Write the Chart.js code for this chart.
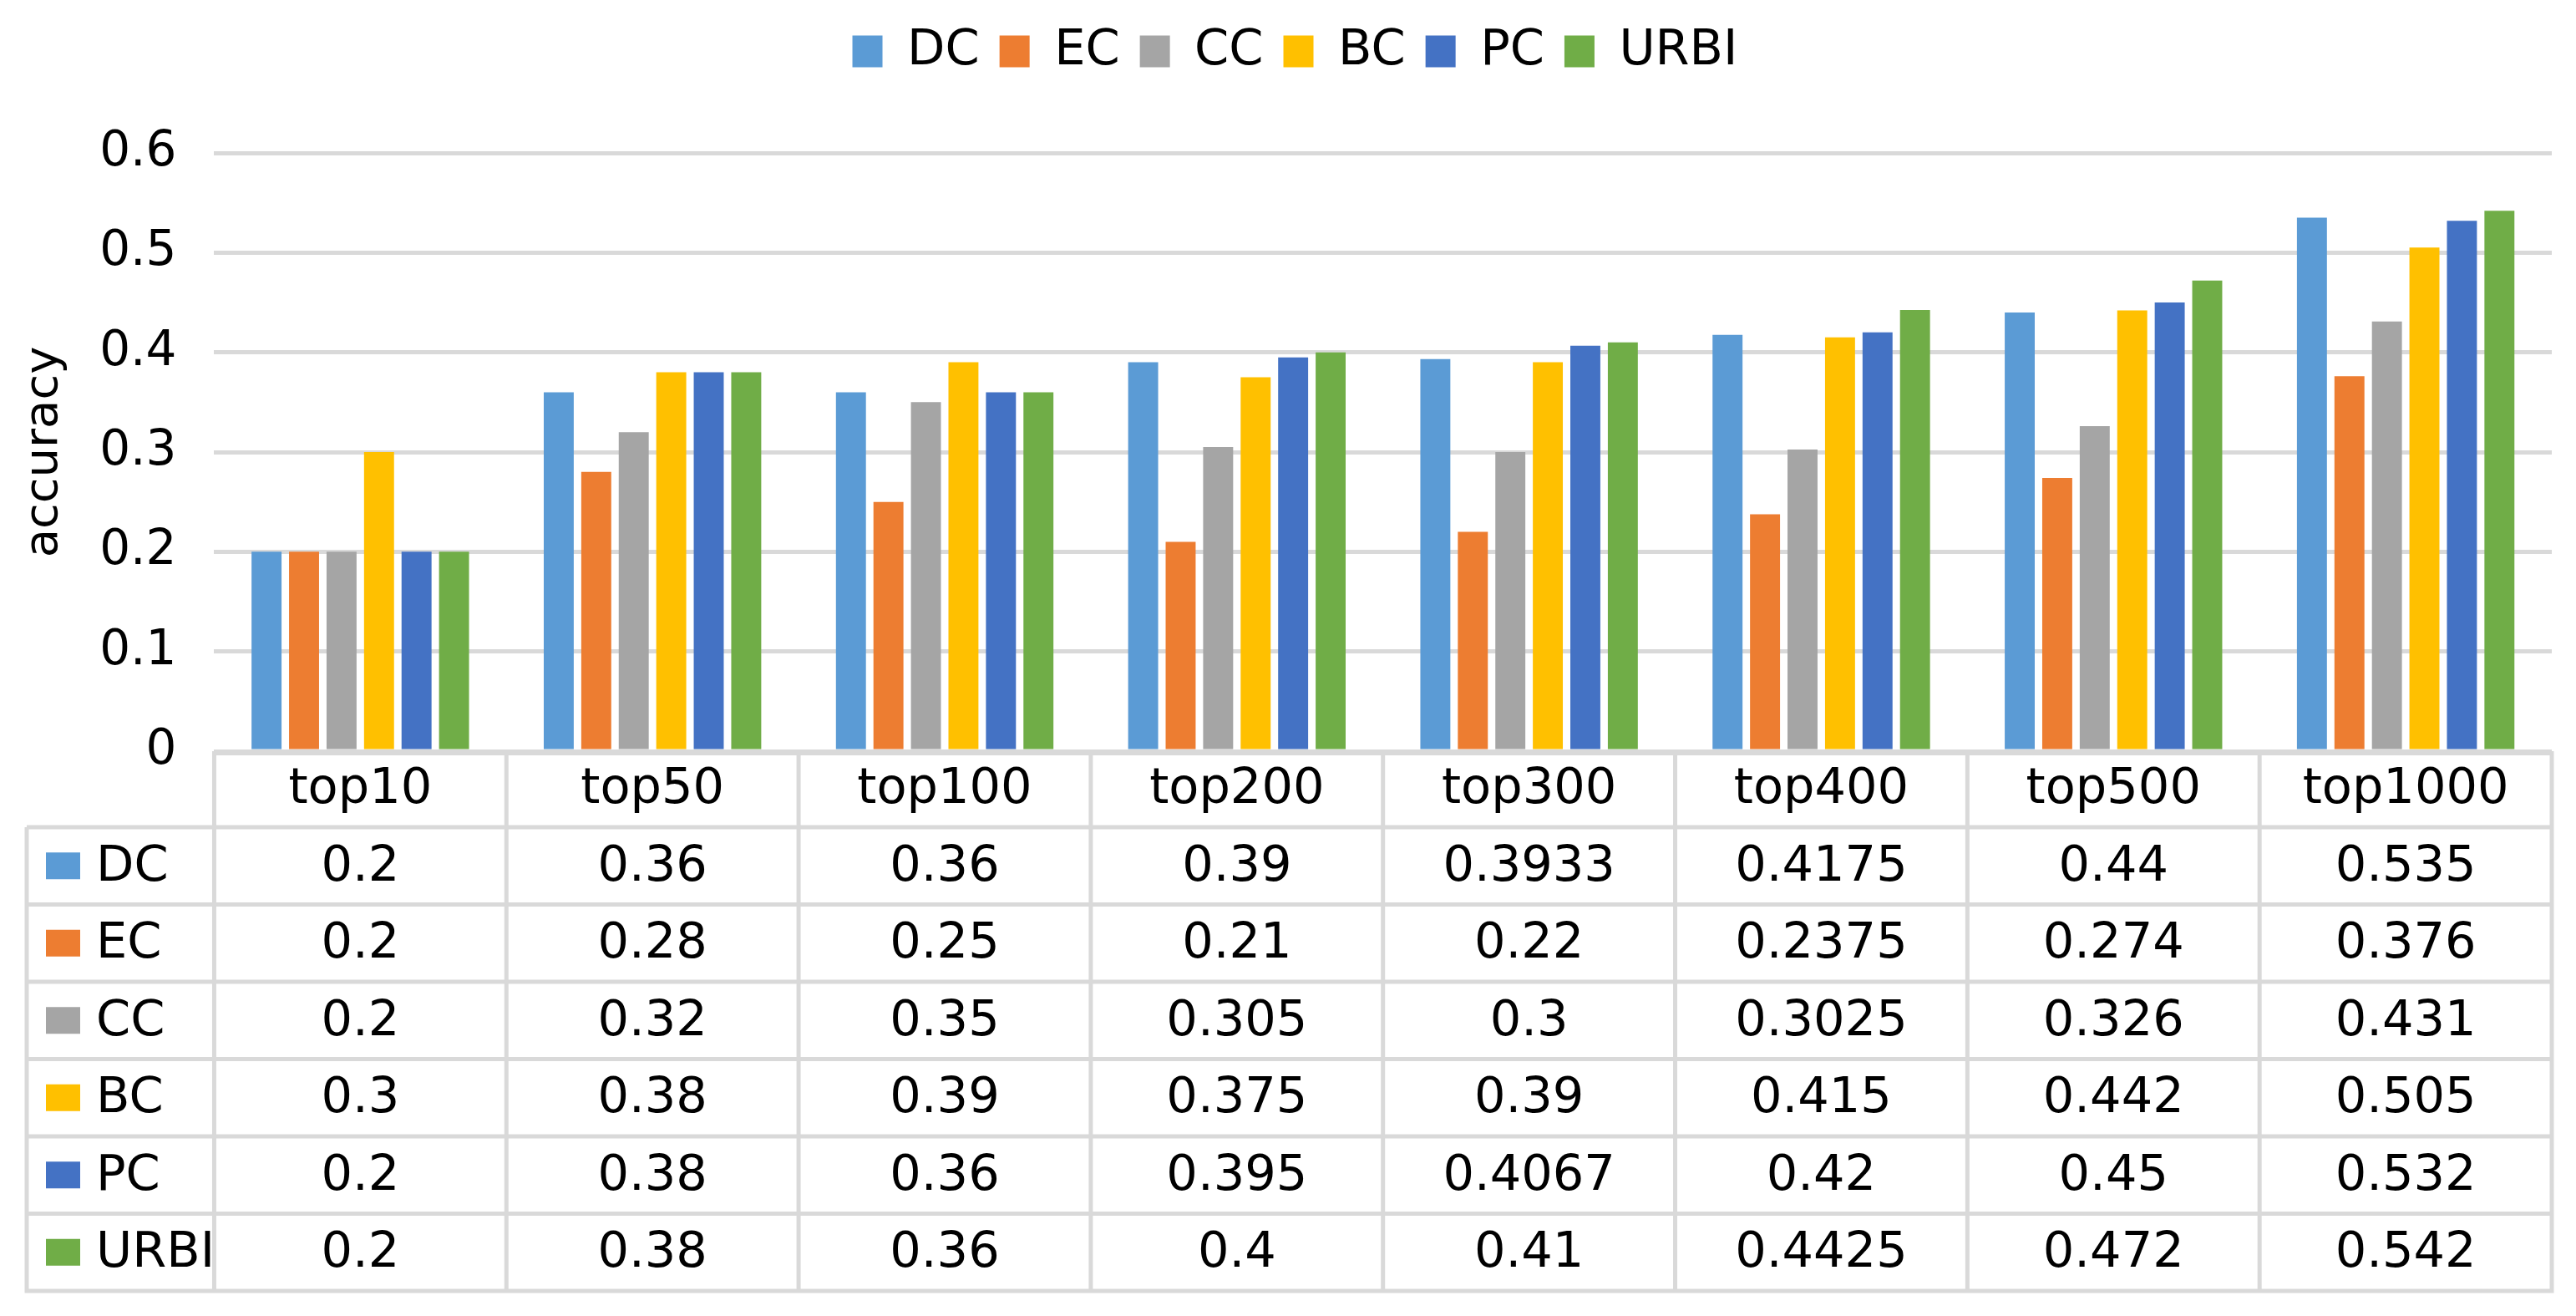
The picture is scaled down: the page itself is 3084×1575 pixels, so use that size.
<!DOCTYPE html>
<html>
<head>
<meta charset="utf-8">
<script src="https://cdn.jsdelivr.net/npm/chart.js@4/dist/chart.umd.min.js"></script>
<style>
  html, body { margin: 0; padding: 0; background: #fff; }
  #wrap { width: 3084px; height: 1575px; }
</style>
</head>
<body>
<div id="wrap"><canvas id="chart-canvas"></canvas></div>
<script>
  const categories = ['top10', 'top50', 'top100', 'top200', 'top300', 'top400', 'top500', 'top1000'];
  const seriesNames = ['DC', 'EC', 'CC', 'BC', 'PC', 'URBI'];
  const seriesColors = ['#5B9BD5', '#ED7D31', '#A5A5A5', '#FFC000', '#4472C4', '#70AD47'];

  const dcValues   = [0.2, 0.36, 0.36, 0.39, 0.3933, 0.4175, 0.44, 0.535];
  const ecValues   = [0.2, 0.28, 0.25, 0.21, 0.22, 0.2375, 0.274, 0.376];
  const ccValues   = [0.2, 0.32, 0.35, 0.305, 0.3, 0.3025, 0.326, 0.431];
  const bcValues   = [0.3, 0.38, 0.39, 0.375, 0.39, 0.415, 0.442, 0.505];
  const pcValues   = [0.2, 0.38, 0.36, 0.395, 0.4067, 0.42, 0.45, 0.532];
  const urbiValues = [0.2, 0.38, 0.36, 0.4, 0.41, 0.4425, 0.472, 0.542];

  const yTicks = [0, 0.1, 0.2, 0.3, 0.4, 0.5, 0.6];
  const yTitle = 'accuracy';

  const allValues = [dcValues, ecValues, ccValues, bcValues, pcValues, urbiValues];
  const FONT = "'DejaVu Sans', sans-serif";
  const GRID = '#d9d9d9';

  // push the plot area down below the legend
  const legendMargin = {
    id: 'legendMargin',
    beforeInit(chart) {
      const fit = chart.legend.fit;
      chart.legend.fit = function () {
        fit.bind(chart.legend)();
        this.height += 82;
      };
    }
  };

  // data table drawn under the plot, columns taken from the x scale
  const dataTable = {
    id: 'dataTable',
    afterDraw(chart) {
      const ctx = chart.ctx;
      const x = chart.scales.x;
      const area = chart.chartArea;
      const colW = (area.right - area.left) / categories.length;
      const top = area.bottom;
      const headerBottom = top + 91;
      const rowH = 92.5;
      const tableLeft = 32;
      const bottom = headerBottom + rowH * seriesNames.length;

      ctx.save();
      ctx.strokeStyle = GRID;
      ctx.lineWidth = 5;
      ctx.beginPath();
      ctx.moveTo(area.left, top + 2.5);
      ctx.lineTo(area.right, top + 2.5);
      for (let r = 0; r <= seriesNames.length; r++) {
        const y = headerBottom + r * rowH;
        ctx.moveTo(tableLeft, y);
        ctx.lineTo(area.right, y);
      }
      for (let i = 0; i <= categories.length; i++) {
        const xx = area.left + i * colW;
        ctx.moveTo(xx, top);
        ctx.lineTo(xx, bottom + 2.5);
      }
      ctx.moveTo(tableLeft, headerBottom);
      ctx.lineTo(tableLeft, bottom + 2.5);
      ctx.stroke();

      ctx.fillStyle = '#000';
      ctx.font = '59px ' + FONT;
      ctx.textAlign = 'center';
      ctx.textBaseline = 'middle';
      categories.forEach((c, i) => {
        ctx.fillText(c, x.getPixelForValue(i), top + 47);
      });

      allValues.forEach((vals, r) => {
        const cy = headerBottom + rowH * (r + 0.5);
        ctx.textAlign = 'center';
        ctx.fillStyle = '#000';
        vals.forEach((v, i) => {
          ctx.fillText(String(v), x.getPixelForValue(i), cy + 2);
        });
        ctx.fillStyle = seriesColors[r];
        ctx.fillRect(55, cy - 16, 41, 32);
        ctx.save();
        ctx.beginPath();
        ctx.rect(tableLeft, cy - rowH / 2, area.left - tableLeft - 3, rowH);
        ctx.clip();
        ctx.fillStyle = '#000';
        ctx.textAlign = 'left';
        ctx.fillText(seriesNames[r], 115, cy + 2);
        ctx.restore();
      });
      ctx.restore();
    }
  };

  const config = {
    type: 'bar',
    data: {
      labels: categories,
      datasets: seriesNames.map((name, i) => ({
        label: name,
        data: allValues[i],
        backgroundColor: seriesColors[i],
        borderWidth: 0,
        categoryPercentage: 0.77,
        barPercentage: 0.8
      }))
    },
    options: {
      responsive: true,
      maintainAspectRatio: false,
      devicePixelRatio: 1,
      animation: false,
      layout: { padding: { top: 8, left: 46, right: 29, bottom: 668 } },
      plugins: {
        legend: {
          position: 'top',
          labels: {
            boxWidth: 36,
            boxHeight: 38,
            padding: 24,
            color: '#000',
            font: { size: 59, family: FONT }
          }
        },
        tooltip: { enabled: false }
      },
      scales: {
        x: {
          ticks: { display: false },
          grid: { display: false },
          border: { display: false }
        },
        y: {
          min: 0,
          max: 0.6,
          afterBuildTicks: (axis) => { axis.ticks = yTicks.map(v => ({ value: v })); },
          ticks: {
            padding: 45,
            color: '#000',
            font: { size: 58, family: FONT }
          },
          grid: { color: GRID, lineWidth: 5, drawTicks: false },
          border: { display: false },
          title: {
            display: true,
            text: yTitle,
            color: '#000',
            padding: { top: -26, bottom: -13 },
            font: { size: 56, family: FONT }
          }
        }
      }
    },
    plugins: [legendMargin, dataTable]
  };

  new Chart(document.querySelector('#chart-canvas').getContext('2d'), config);
</script>
</body>
</html>
